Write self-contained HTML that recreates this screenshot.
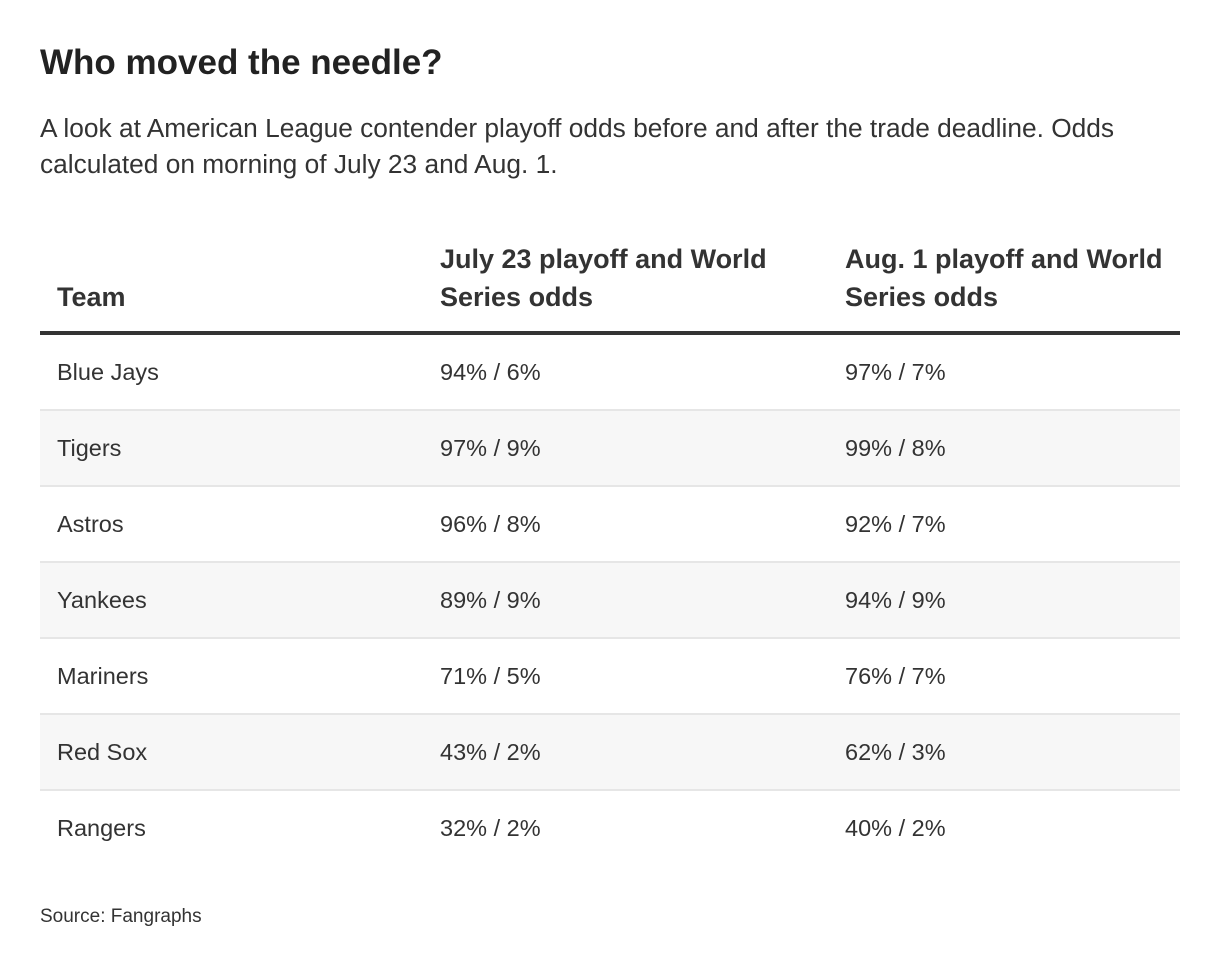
<!DOCTYPE html>
<html><head><meta charset="utf-8"><style>
body{margin:0;width:1220px;height:972px;background:#fff;font-family:"Liberation Sans",sans-serif;color:#222;position:relative;overflow:hidden}
h1{position:absolute;left:40px;top:43px;margin:0;font-size:35px;font-weight:bold;color:#222}
.sub{position:absolute;left:40px;top:110px;width:1140px;font-size:26.3px;line-height:36px;color:#333}
.hd{position:absolute;font-size:27px;font-weight:bold;line-height:38px;color:#333}
.rule{position:absolute;left:40px;width:1140px;height:4px;top:331px;background:#333}
.row{position:absolute;left:40px;width:1140px;height:74px;border-bottom:2px solid #e6e6e6}
.row.g{background:#f7f7f7}
.row.last{border-bottom:none}
.row span{position:absolute;top:0;line-height:74px;font-size:23.5px;color:#333}
.src{position:absolute;left:40px;top:906px;font-size:19px;color:#333}
</style></head><body>
<h1>Who moved the needle?</h1>
<div class="sub">A look at American League contender playoff odds before and after the trade deadline. Odds calculated on morning of July 23 and Aug. 1.</div>
<div class="hd" style="left:57px;top:278px">Team</div>
<div class="hd" style="left:440px;top:240px">July 23 playoff and World<br>Series odds</div>
<div class="hd" style="left:845px;top:240px">Aug. 1 playoff and World<br>Series odds</div>
<div class="rule"></div>
<div id="rows"></div>
<div class="src">Source: Fangraphs</div>
<script>
const teams=["Blue Jays","Tigers","Astros","Yankees","Mariners","Red Sox","Rangers"];
const july=["94% / 6%","97% / 9%","96% / 8%","89% / 9%","71% / 5%","43% / 2%","32% / 2%"];
const aug=["97% / 7%","99% / 8%","92% / 7%","94% / 9%","76% / 7%","62% / 3%","40% / 2%"];
const c=document.getElementById('rows');
teams.forEach((t,i)=>{
 const r=document.createElement('div');
 r.className='row'+(i%2?' g':'')+(i===teams.length-1?' last':'');
 r.style.top=(335+i*76)+'px';
 
 
 [[t,17],[july[i],400],[aug[i],805]].forEach(([v,x])=>{
  const s=document.createElement('span');s.textContent=v;s.style.left=x+'px';
  
  
  r.appendChild(s);
 });
 c.appendChild(r);
});
</script>
</body></html>
